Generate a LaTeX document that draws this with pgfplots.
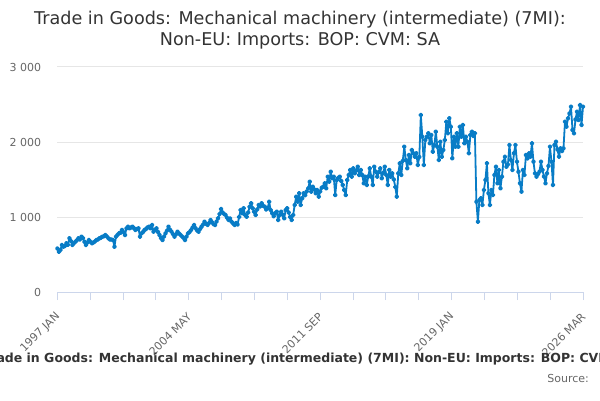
\documentclass[border=0pt]{standalone}
\usepackage{fontspec}
\setmainfont{DejaVu Sans}
\usepackage{pgfplots}
\pgfplotsset{compat=1.18}
\definecolor{linec}{RGB}{8,124,198}
\definecolor{gridc}{HTML}{E6E6E6}
\definecolor{axisc}{HTML}{CCD6EB}
\definecolor{titc}{HTML}{333333}
\definecolor{labc}{HTML}{666666}
\begin{document}
\begin{tikzpicture}[x=1bp,y=1bp]
\useasboundingbox (0,0) rectangle (600,400);
\begin{axis}[
  at={(57.4bp,108bp)}, anchor=south west,
  scale only axis, width=525.6bp, height=225bp,
  xmin=0, xmax=350, ymin=0, ymax=3000,
  axis x line*=bottom, axis y line*=left,
  x axis line style={draw=axisc, line width=1bp, -},
  y axis line style={draw=none},
  xtick={0,87.5,175,262.5,350},
  xticklabels={1997 JAN,2004 MAY,2011 SEP,2019 JAN,2026 MAR},
  minor xtick={21.875,43.75,65.625,109.375,131.25,153.125,196.875,218.75,240.625,284.375,306.25,328.125},
  ytick={0,1000,2000,3000},
  yticklabels={0,1 000,2 000,3 000},
  tick align=outside, xtick pos=bottom, ytick pos=left,
  major tick length=8bp, minor tick length=8bp,
  xtick style={draw=axisc, line width=1bp},
  minor x tick style={draw=axisc, line width=1bp},
  ytick style={draw=none},
  ymajorgrids, grid style={draw=gridc, line width=1bp},
  xticklabel style={rotate=45, anchor=east, inner sep=0pt, font=\fontsize{11bp}{13bp}\selectfont, text=labc, yshift=-11bp, xshift=-10bp},
  yticklabel style={anchor=east, inner sep=0pt, font=\fontsize{11bp}{13bp}\selectfont, text=labc, xshift=-8bp},
  clip=false,
]
\addplot[draw=linec, line width=1.8bp, line join=round, mark=*, mark size=1.5bp, mark options={solid, fill=linec, draw=none}] coordinates {
(0,580) (1,538) (2,560) (3,627) (4,604) (5,615) (6,649) (7,630) (8,716) (9,680) (10,627) (11,650) (12,671) (13,690) (14,716) (15,700) (16,738) (17,720) (18,671) (19,627) (20,660) (21,693) (22,670) (23,649) (24,660) (25,675) (26,693) (27,700) (28,716) (29,725) (30,738) (31,745) (32,760) (33,740) (34,716) (35,700) (36,700) (37,693) (38,604) (39,738) (40,760) (41,782) (42,790) (43,827) (44,800) (45,760) (46,849) (47,871) (48,850) (49,860) (50,871) (51,850) (52,827) (53,840) (54,849) (55,738) (56,782) (57,800) (58,827) (59,840) (60,860)
(61,871) (62,850) (63,893) (64,804) (65,830) (66,849) (67,800) (68,760) (69,720) (70,693) (71,740) (72,782) (73,820) (74,871) (75,830) (76,804) (77,770) (78,738) (79,770) (80,804) (81,780) (82,760) (83,740) (84,720) (85,693) (86,740) (87,782) (88,800) (89,827) (90,860) (91,893) (92,850) (93,820) (94,804) (95,840) (96,871) (97,900) (98,938) (99,910) (100,893) (101,920) (102,960) (103,930) (104,905) (105,893) (106,940) (107,982) (108,1040) (109,1107) (110,1060) (111,1040) (112,1027) (113,990) (114,960) (115,980) (116,938) (117,915) (118,893) (119,920) (120,900)
(121,1000) (122,1093) (123,1049) (124,1116) (125,1027) (126,1004) (127,1060) (128,1138) (129,1182) (130,1116) (131,1071) (132,1027) (133,1100) (134,1160) (135,1140) (136,1182) (137,1150) (138,1138) (139,1100) (140,1116) (141,1204) (142,1093) (143,1049) (144,1010) (145,1050) (146,1071) (147,960) (148,1027) (149,1071) (150,1030) (151,982) (152,1093) (153,1116) (154,1060) (155,1000) (156,960) (157,1027) (158,1160) (159,1271) (160,1204) (161,1316) (162,1160) (163,1249) (164,1316) (165,1290) (166,1340) (167,1382) (168,1471) (169,1338) (170,1404) (171,1370) (172,1316) (173,1360) (174,1271) (175,1340) (176,1390) (177,1404) (178,1449) (179,1382) (180,1538) (181,1471) (182,1604) (183,1516)
(184,1538) (185,1293) (186,1493) (187,1520) (188,1538) (189,1480) (190,1427) (191,1360) (192,1293) (193,1493) (194,1560) (195,1627) (196,1538) (197,1649) (198,1582) (199,1620) (200,1671) (201,1560) (202,1627) (203,1560) (204,1449) (205,1538) (206,1427) (207,1540) (208,1649) (209,1538) (210,1427) (211,1671) (212,1604) (213,1538) (214,1600) (215,1649) (216,1516) (217,1590) (218,1671) (219,1560) (220,1427) (221,1627) (222,1538) (223,1582) (224,1500) (225,1400) (226,1271) (227,1582) (228,1716) (229,1560) (230,1750) (231,1938) (232,1760) (233,1649) (234,1827) (235,1716) (236,1893) (237,1850) (238,1804) (239,1849) (240,1693) (241,1800)
(242,2360) (243,2071) (244,1693) (245,2027) (246,2071) (247,2116) (248,1982) (249,2093) (250,1871) (251,1960) (252,2138) (253,1938) (254,1760) (255,2004) (256,1804) (257,1893) (258,2027) (259,2271) (260,2116) (261,2316) (262,2204) (263,1782) (264,2071) (265,1938) (266,2116) (267,1938) (268,2204) (269,2071) (270,2227) (271,1982) (272,2071) (273,2004) (274,1849) (275,2093) (276,2138) (277,2080) (278,2116) (279,1204) (280,938)
(281,1227) (282,1249) (283,1160) (284,1360) (285,1493) (286,1716) (287,1316) (288,1160) (289,1360) (290,1293) (291,1560) (292,1671) (293,1449) (294,1627) (295,1382) (296,1538) (297,1738) (298,1804) (299,1671) (300,1700) (301,1960) (302,1760) (303,1627) (304,1849) (305,1960) (306,1738) (307,1604) (308,1450) (309,1338) (310,1627) (311,1560) (312,1827) (313,1780) (314,1849) (315,1804) (316,1982) (317,1738) (318,1582) (319,1538) (320,1570) (321,1604) (322,1738) (323,1627) (324,1540) (325,1449) (326,1582) (327,1680) (328,1938) (329,1738) (330,1427) (331,1960) (332,2004) (333,1900) (334,1804) (335,1916) (336,1880) (337,1916) (338,2271) (339,2204) (340,2316) (341,2380) (342,2471) (343,2160) (344,2116) (345,2300) (346,2404) (347,2293) (348,2493) (349,2227) (350,2471)
};
\end{axis}
\node[anchor=base, font=\fontsize{17.6bp}{22bp}\selectfont, text=titc] at (300,376) {Trade in Goods: Mechanical machinery (intermediate) (7MI):};
\node[anchor=base, font=\fontsize{17.6bp}{22bp}\selectfont, text=titc] at (300,354.5) {Non-EU: Imports: BOP: CVM: SA};
\node[anchor=base, font=\bfseries\fontsize{12.5bp}{15bp}\selectfont, text=titc] at (311,38) {Trade in Goods: Mechanical machinery (intermediate) (7MI): Non-EU: Imports: BOP: CVM: SA};
\node[anchor=base east, inner sep=0pt, font=\fontsize{11bp}{13bp}\selectfont, text=labc] at (589,18) {Source:};
\end{tikzpicture}
\end{document}
